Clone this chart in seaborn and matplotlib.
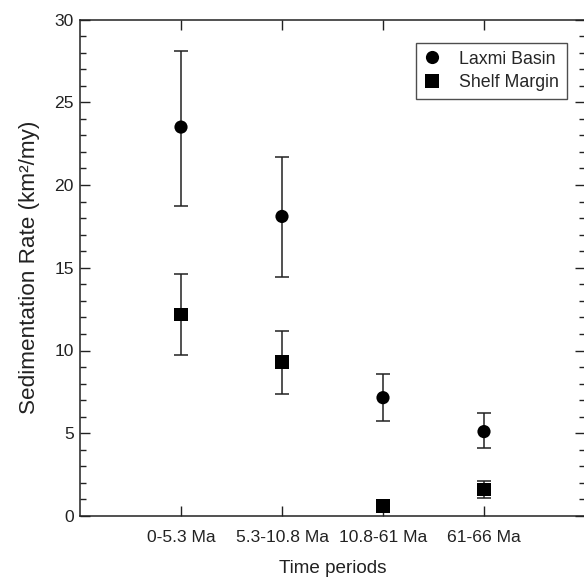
import numpy as np
import pandas as pd
import matplotlib
matplotlib.use("Agg")
import matplotlib.pyplot as plt
import seaborn as sns

# Valores
periods = ["0-5.3 Ma", "5.3-10.8 Ma", "10.8-61 Ma", "61-66 Ma"]
laxmi_rate = [23.5, 18.1, 7.15, 5.1]
laxmi_low = [18.75, 14.45, 5.75, 4.1]
laxmi_high = [28.1, 21.7, 8.6, 6.2]
shelf_rate = [12.2, 9.3, 0.6, 1.6]
shelf_low = [9.7, 7.4, 0.45, 1.1]
shelf_high = [14.65, 11.15, 0.75, 2.1]

sns.set_style("ticks")
plt.rcParams['font.family'] = ['Liberation Sans', 'DejaVu Sans']

pos = np.arange(len(periods)) + 1
df = pd.DataFrame({
    "pos": np.concatenate([pos, pos]),
    "rate": laxmi_rate + shelf_rate,
    "low": laxmi_low + shelf_low,
    "high": laxmi_high + shelf_high,
    "series": ["Laxmi Basin"] * len(periods) + ["Shelf Margin"] * len(periods),
})

fig = plt.figure(figsize=(5.84, 5.78), dpi=100)
ax = fig.add_axes([80 / 584, 62 / 578, 505 / 584, 496.5 / 578])

# barras de erro
for name, g in df.groupby("series"):
    ax.errorbar(g["pos"], g["rate"],
                yerr=[g["rate"] - g["low"], g["high"] - g["rate"]],
                fmt="none", ecolor="#222222", elinewidth=1.1,
                capsize=4.7, capthick=1.1, zorder=2)

sns.scatterplot(data=df, x="pos", y="rate", style="series",
                markers={"Laxmi Basin": "o", "Shelf Margin": "s"},
                color="black", s=90, edgecolor="black", linewidth=0,
                ax=ax, zorder=3)

ax.set_xlim(0, 5)
ax.set_ylim(0, 30)
ax.set_xticks(pos)
ax.set_xticklabels(periods)
ax.set_yticks(np.arange(0, 31, 5))
ax.set_yticks(np.arange(0, 31, 1), minor=True)
ax.tick_params(axis="both", which="major", direction="in", length=7,
               width=1, labelsize=12.6, top=True, right=True, colors="#222222")
ax.tick_params(axis="y", which="minor", direction="in", length=4,
               width=1, right=True, colors="#222222")
ax.tick_params(axis="x", which="major", pad=10, labelcolor="#222222")
ax.tick_params(axis="y", which="major", pad=4.5, labelcolor="#222222")
for s in ax.spines.values():
    s.set_color("#222222")
    s.set_linewidth(1.1)

ax.set_xlabel("Time periods", fontsize=13.6, labelpad=11, color="#222222")
ax.set_ylabel("Sedimentation Rate (km²/my)", fontsize=16.2, labelpad=10,
              color="#222222")

leg = ax.legend(loc="upper right", bbox_to_anchor=(487 / 505, 1 - 23 / 496.5),
                borderaxespad=0, fontsize=12.8, frameon=True, fancybox=False,
                title=None, handletextpad=1.0, borderpad=0.45,
                labelspacing=0.35, handlelength=1.0, markerscale=1.0)
leg.get_frame().set_edgecolor("#222222")
leg.get_frame().set_linewidth(1.0)

fig.savefig("out.png", dpi=100)
